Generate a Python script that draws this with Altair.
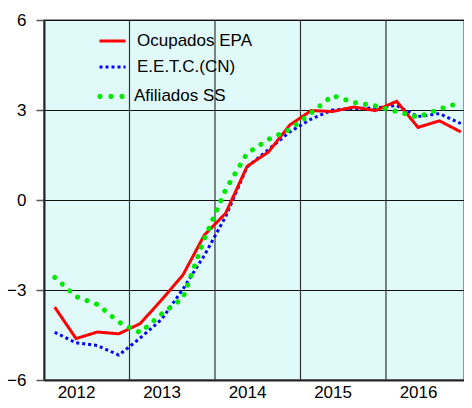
import altair as alt
import pandas as pd

quarters = list(range(20))
year_labels = ["2012", "2013", "2014", "2015", "2016"]
year_label_pos = [1, 5, 9, 13, 17]
year_bounds = [3.5, 7.5, 11.5, 15.5]

series_names = ["Ocupados EPA", "E.E.T.C.(CN)", "Afiliados SS"]
series_colors = ["#FF0000", "#0000FF", "#00E800"]

ocupados = [-3.57, -4.62, -4.40, -4.46, -4.12, -3.33, -2.50, -1.17, -0.44, 1.12,
            1.60, 2.50, 2.98, 2.95, 3.10, 2.98, 3.29, 2.42, 2.64, 2.27]
eetc = [-4.41, -4.76, -4.85, -5.17, -4.60, -3.98, -2.97, -1.85, -0.55, 1.10,
        1.68, 2.27, 2.70, 3.00, 3.05, 3.07, 3.15, 2.78, 2.88, 2.55]
afiliados = [-2.58, -3.22, -3.48, -4.07, -4.42, -3.80, -3.27, -1.30, 0.35, 1.55,
             2.02, 2.35, 2.90, 3.48, 3.25, 3.14, 2.95, 2.76, 3.03, 3.25]

rows = []
for name, vals in zip(series_names, [ocupados, eetc, afiliados]):
    for q, v in zip(quarters, vals):
        rows.append({"q": q, "v": v, "serie": name})
df = pd.DataFrame(rows)
bounds_df = pd.DataFrame({"b": year_bounds})

label_expr = " : ".join(
    f"datum.value == {p} ? '{y}'" for p, y in zip(year_label_pos, year_labels)
) + " : ''"

FONT = "Liberation Sans"
x_scale = alt.Scale(domain=[-0.5, 19.15], nice=False, zero=False)
y_scale = alt.Scale(domain=[-6, 6], nice=False, zero=False)

x_enc = alt.X("q:Q", scale=x_scale, axis=alt.Axis(
    values=year_label_pos, labelExpr=label_expr, title=None, grid=False,
    ticks=False, labelPadding=4, labelFontSize=17, labelColor="black",
    labelFont=FONT, domainColor="#222", domainWidth=2))
y_enc = alt.Y("v:Q", scale=y_scale, axis=alt.Axis(
    values=[-6, -3, 0, 3, 6], title=None, grid=True, gridColor="#111",
    gridWidth=1.2, gridOpacity=1, tickSize=8, tickColor="#555", tickWidth=1.5,
    labelPadding=10, labelFontSize=17, labelColor="black",
    labelFont=FONT, domainColor="#222", domainWidth=2))

LEG_X = 54
LEG_Y_A = 6.5
LEG_Y_B = 63.4

legend_a = alt.Legend(title=None, orient="none", legendX=LEG_X, legendY=LEG_Y_A,
                      symbolType="stroke", symbolSize=676, symbolStrokeWidth=3,
                      labelFontSize=17, labelFont=FONT, labelColor="black",
                      padding=0, rowPadding=3, labelOffset=10)

dots_path = ("M-1.046,0a0.2,0.2 0 1,0 0.4,0a0.2,0.2 0 1,0 -0.4,0Z "
             "M-0.2,0a0.2,0.2 0 1,0 0.4,0a0.2,0.2 0 1,0 -0.4,0Z "
             "M0.646,0a0.2,0.2 0 1,0 0.4,0a0.2,0.2 0 1,0 -0.4,0Z")
legend_b = alt.Legend(title=None, orient="none", legendX=LEG_X, legendY=LEG_Y_B,
                      symbolType=dots_path, symbolSize=676, symbolStrokeWidth=0,
                      labelFontSize=17, labelFont=FONT, labelColor="black",
                      padding=0, labelOffset=10)

ab_names = series_names[:2]
color_a = alt.Color("serie:N", scale=alt.Scale(domain=ab_names, range=series_colors[:2]),
                    legend=legend_a)
dash_a = alt.StrokeDash("serie:N", scale=alt.Scale(domain=ab_names,
                        range=[[1, 0], [3, 3]]), legend=legend_a)

rules = alt.Chart(bounds_df).mark_rule(color="#333", strokeWidth=1.2).encode(
    x=alt.X("b:Q", scale=x_scale))

def ab_layer(name):
    return alt.Chart(df).transform_filter(
        alt.FieldEqualPredicate(field="serie", equal=name)
    ).mark_line(strokeWidth=3, strokeCap="butt").encode(
        x=x_enc, y=y_enc, color=color_a, strokeDash=dash_a)

red_blue = alt.layer(ab_layer("E.E.T.C.(CN)"), ab_layer("Ocupados EPA"))

green_line = alt.Chart(df).transform_filter(
    alt.FieldEqualPredicate(field="serie", equal="Afiliados SS")
).mark_line(strokeWidth=5, strokeCap="round", strokeDash=[0.1, 10],
            color=series_colors[2]).encode(x=x_enc, y=y_enc)

green_legend = alt.Chart(df).transform_filter("datum.v > 100").mark_point(
    filled=True, opacity=1, strokeWidth=0).encode(
    x=x_enc, y=y_enc,
    color=alt.Color("serie:N", scale=alt.Scale(domain=["Afiliados SS"],
                    range=[series_colors[2]]), legend=legend_b))

chart = alt.layer(rules, red_blue, green_line, green_legend).resolve_scale(
    color="independent", strokeDash="independent"
).properties(
    width=420, height=360,
    padding={"left": 36, "top": 12, "right": 0, "bottom": 20},
    autosize=alt.AutoSizeParams(type="none"),
    background="white",
).configure_view(
    fill="#E0FAFA", stroke="#777", strokeWidth=1.5
)

chart.save("out.html", embed_options={"renderer": "svg", "actions": False})
